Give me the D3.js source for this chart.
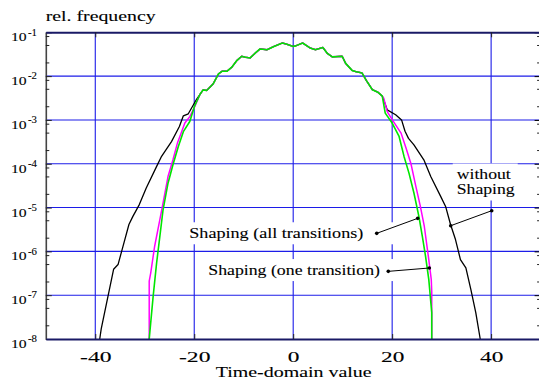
<!DOCTYPE html>
<html>
<head>
<meta charset="utf-8">
<script src="https://cdn.jsdelivr.net/npm/d3@7"></script>
<style>
  body { margin: 0; background: #fff; }
  svg text { font-family: "Liberation Serif", "Times New Roman", Times, serif; fill: #000; stroke: #000; stroke-width: 0.1px; }
</style>
</head>
<body>
<svg id="chart" width="539" height="382"></svg>
<script>
// x ticks and decades of the log axis
const xTicks = [-40, -20, 0, 20, 40];
const decades = [1e-8, 1e-7, 1e-6, 1e-5, 1e-4, 1e-3, 1e-2, 1e-1];

// middle part, where the three curves lie on top of each other
const core = [
  [-18.2, 4.85e-3], [-17.5, 4.7e-3], [-16.2, 6.6e-3], [-15.1, 1.12e-2], [-14.4, 1.29e-2],
  [-13.4, 1.29e-2], [-12.4, 1.6e-2], [-11.4, 2.26e-2], [-10.4, 2.84e-2], [-9.7, 2.7e-2],
  [-8.7, 2.6e-2], [-7.7, 3.33e-2], [-6.7, 4.17e-2], [-5.3, 4.0e-2], [-4.0, 4.7e-2],
  [-2.2, 5.7e-2], [-1.4, 5.4e-2], [0, 4.75e-2], [0.5, 4.9e-2], [1.9, 5.7e-2],
  [3.4, 4.4e-2], [4.5, 4.0e-2], [6.0, 4.5e-2], [6.9, 3.3e-2], [7.9, 2.75e-2],
  [9.9, 2.84e-2], [10.6, 1.95e-2], [11.9, 1.35e-2], [12.6, 1.27e-2], [13.9, 1.18e-2],
  [14.8, 7.9e-3], [16.0, 4.9e-3], [17.1, 4.3e-3], [18.0, 3.5e-3]
];

// without shaping (black)
const plainLeft = [
  [-39.1, 1.0e-8], [-38.8, 1.7e-8], [-36.3, 3.9e-7], [-35.4, 5.0e-7], [-34.4, 1.3e-6],
  [-33.2, 4.1e-6], [-32.4, 6.3e-6], [-31.1, 1.17e-5], [-29.7, 2.8e-5], [-27.6, 8.7e-5],
  [-26.6, 1.48e-4], [-24.6, 3.2e-4], [-23.0, 7.1e-4], [-22.2, 1.24e-3], [-21.2, 1.38e-3],
  [-19.5, 3.0e-3]
];
const plainRight = [
  [19.0, 1.7e-3], [20.7, 1.31e-3], [21.9, 1.0e-3], [22.6, 5.5e-4], [23.3, 3.8e-4],
  [24.4, 2.7e-4], [26.4, 1.23e-4], [27.8, 5.1e-5], [29.8, 1.8e-5], [30.8, 1.06e-5],
  [31.8, 4.1e-6], [32.8, 1.86e-6], [33.8, 6.5e-7], [34.9, 4.2e-7], [35.9, 1.35e-7],
  [36.9, 4.0e-8], [37.8, 1.0e-8]
];

// shaping, one transition (magenta)
const oneLeft = [
  [-29.1, 1e-8], [-29.1, 2.1e-7], [-28.8, 3.2e-7], [-28.0, 1.31e-6], [-26.95, 5.3e-6],
  [-26.3, 1.27e-5], [-25.3, 5.1e-5], [-24.3, 1.23e-4], [-23.4, 2.96e-4], [-22.9, 4.2e-4],
  [-21.9, 8.5e-4], [-20.9, 1.19e-3], [-19.9, 2.0e-3], [-18.8, 3.9e-3]
];
const oneRight = [
  [18.3, 3.14e-3], [19.0, 1.55e-3], [20.2, 9.4e-4], [21.8, 5.0e-4], [22.8, 2.3e-4],
  [23.8, 1.0e-4], [24.8, 3.0e-5], [25.7, 1.06e-5], [26.5, 3.7e-6], [27.4, 6.5e-7],
  [27.9, 2.3e-7], [28.0, 1.23e-7], [28.0, 1e-8]
];

// shaping, all transitions (green)
const allLeft = [
  [-29.1, 1e-8], [-28.3, 9.5e-8], [-27.6, 5.5e-7], [-26.95, 2.2e-6], [-26.3, 8.9e-6],
  [-25.3, 3.6e-5], [-24.3, 9.5e-5], [-23.2, 2.5e-4], [-22.2, 5.4e-4], [-20.9, 9.2e-4],
  [-19.9, 2.13e-3], [-18.8, 3.9e-3]
];
const allRight = [
  [18.6, 1.43e-3], [20.0, 8.5e-4], [21.4, 4.2e-4], [22.4, 1.47e-4], [23.4, 6.1e-5],
  [24.4, 2.15e-5], [25.4, 6.3e-6], [26.1, 2.2e-6], [26.75, 7.7e-7], [27.4, 2.3e-7],
  [28.0, 4.0e-8], [28.0, 1e-8]
];

const series = [
  { name: "without Shaping", color: "#000", width: 1.3, pts: [...plainLeft, ...core, ...plainRight] },
  { name: "Shaping (one transition)", color: "#ff00ff", width: 1.5, pts: [...oneLeft, ...core, ...oneRight] },
  { name: "Shaping (all transitions)", color: "#00e600", width: 1.6, pts: [...allLeft, ...core, ...allRight] }
];

// labels and their pointers, in data units
const notes = [
  { lines: ["Shaping (all transitions)"], x: -21.0, v: 1.99e-6, widths: [174], padR: 33 },
  { lines: ["Shaping (one transition)"], x: -17.16, v: 2.88e-7, widths: [171.7], padR: 16 },
  { lines: ["without", "Shaping"], x: 33.05, v: 4.37e-5, widths: [54, 58], padR: 3 }
];
const pointers = [
  [[16.88, 2.58e-6], [25.16, 5.67e-6]],
  [[19.22, 3.5e-7], [27.51, 4.17e-7]],
  [[40.12, 8.47e-6], [31.83, 3.85e-6]]
];

const svg = d3.select("#chart");
const x = d3.scaleLinear().domain([-50, 50]).range([45.8, 540.6]);
const y = d3.scaleLog().domain([1e-8, 1e-1]).range([339, 32.3]);
const [x0, x1] = x.range();
const [yb, yt] = y.range();

svg.append("defs").append("clipPath").attr("id", "plot")
  .append("rect").attr("x", x0).attr("y", yt).attr("width", x1 - x0).attr("height", yb - yt);

// grid
const grid = svg.append("g").attr("stroke", "#1c1ce8").attr("stroke-width", 1.1);
grid.selectAll("line.gx").data(xTicks).join("line").attr("class", "gx")
  .attr("x1", d => x(d)).attr("x2", d => x(d)).attr("y1", yt).attr("y2", yb);
grid.selectAll("line.gy").data(decades.slice(1, -1)).join("line").attr("class", "gy")
  .attr("x1", x0).attr("x2", x1).attr("y1", d => y(d)).attr("y2", d => y(d));

// white boxes behind the labels
const fs = 15, lh = 15;
notes.forEach(n => {
  const lx = x(n.x), by = y(n.v);
  const w = d3.max(n.widths);
  svg.append("rect")
    .attr("x", lx - 4).attr("y", by - 16)
    .attr("width", w + 4 + n.padR).attr("height", 22 + (n.lines.length - 1) * lh)
    .attr("fill", "#fff");
});

// curves
const line = d3.line().x(d => x(d[0])).y(d => y(d[1]));
svg.append("g").attr("clip-path", "url(#plot)")
  .selectAll("path").data(series).join("path")
  .attr("d", d => line(d.pts))
  .attr("fill", "none")
  .attr("stroke", d => d.color)
  .attr("stroke-width", d => d.width)
  .attr("stroke-linejoin", "round");

// minor ticks at 2, 5, 8 of each decade
const minors = decades.slice(0, -1).flatMap(d => [2 * d, 5 * d, 8 * d]);

// left axis
const axLeft = svg.append("g").attr("transform", `translate(${x0},0)`)
  .call(d3.axisLeft(y).tickValues(decades).tickSizeInner(-6).tickSizeOuter(0).tickFormat(() => ""));
axLeft.attr("font-family", null).attr("font-size", null);
axLeft.select(".domain").attr("stroke", "#444").attr("stroke-width", 1.6);
axLeft.selectAll(".tick line").attr("stroke", "#222");
axLeft.selectAll(".tick text").remove();
axLeft.selectAll(".tick").each(function (d) {
  const g = d3.select(this);
  g.append("text").attr("x", 11 - x0).attr("y", 8.5)
    .attr("font-size", 13).attr("textLength", 15.7).attr("lengthAdjust", "spacingAndGlyphs")
    .attr("text-anchor", "start").text("10");
  g.append("text").attr("x", 28 - x0).attr("y", 2.8)
    .attr("font-size", 9.5).attr("textLength", 9).attr("lengthAdjust", "spacingAndGlyphs")
    .attr("text-anchor", "start").text(String(Math.round(Math.log10(d))));
});
axLeft.selectAll("line.minor").data(minors).join("line").attr("class", "minor")
  .attr("x1", 0).attr("x2", 3.5).attr("y1", d => y(d)).attr("y2", d => y(d))
  .attr("stroke", "#222");

// right axis
const axRight = svg.append("g").attr("transform", `translate(${x1},0)`)
  .call(d3.axisRight(y).tickValues(decades).tickSizeInner(-6).tickSizeOuter(0).tickFormat(() => ""));
axRight.select(".domain").attr("stroke", "#1a1a66").attr("stroke-width", 2);
axRight.selectAll("line.minor").data(minors).join("line").attr("class", "minor")
  .attr("x1", 0).attr("x2", -3.5).attr("y1", d => y(d)).attr("y2", d => y(d))
  .attr("stroke", "#222");

// top axis
const axTop = svg.append("g").attr("transform", `translate(0,${yt})`)
  .call(d3.axisTop(x).tickValues(xTicks).tickSizeInner(-5).tickSizeOuter(0).tickFormat(() => ""));
axTop.select(".domain").attr("stroke", "#1a1a66").attr("stroke-width", 2);
axTop.selectAll(".tick line").attr("stroke", "#222");

// bottom axis
const labelW = { 1: 11.7, 2: 23.3, 3: 31.5 };
const axBottom = svg.append("g").attr("transform", `translate(0,${yb})`)
  .call(d3.axisBottom(x).tickValues(xTicks).tickSizeInner(-5).tickSizeOuter(0).tickFormat(d => String(d)));
axBottom.attr("font-family", null).attr("font-size", null);
axBottom.select(".domain").attr("stroke", "#1a1a66").attr("stroke-width", 2);
axBottom.selectAll(".tick line").attr("stroke", "#222");
axBottom.selectAll(".tick text")
  .attr("y", 23.3).attr("dy", null)
  .attr("font-size", 14)
  .attr("textLength", d => labelW[String(d).length]).attr("lengthAdjust", "spacingAndGlyphs")
  .attr("fill", null);

// axis titles
svg.append("text").attr("x", 45.7).attr("y", 20.7).attr("font-size", 15)
  .attr("textLength", 110).attr("lengthAdjust", "spacingAndGlyphs").text("rel. frequency");
svg.append("text").attr("x", x(0) + 0.5).attr("y", 377).attr("font-size", 14)
  .attr("text-anchor", "middle")
  .attr("textLength", 156).attr("lengthAdjust", "spacingAndGlyphs").text("Time-domain value");

// labels
notes.forEach(n => {
  n.lines.forEach((t, i) => {
    svg.append("text").attr("x", x(n.x)).attr("y", y(n.v) + i * lh)
      .attr("font-size", fs)
      .attr("textLength", n.widths[i]).attr("lengthAdjust", "spacingAndGlyphs")
      .text(t);
  });
});

// pointers
const pg = svg.append("g");
pointers.forEach(p => {
  pg.append("line")
    .attr("x1", x(p[0][0])).attr("y1", y(p[0][1]))
    .attr("x2", x(p[1][0])).attr("y2", y(p[1][1]))
    .attr("stroke", "#000").attr("stroke-width", 1);
  pg.append("g").selectAll("circle").data(p).join("circle")
    .attr("cx", d => x(d[0])).attr("cy", d => y(d[1])).attr("r", 1.8).attr("fill", "#000");
});
</script>
</body>
</html>
